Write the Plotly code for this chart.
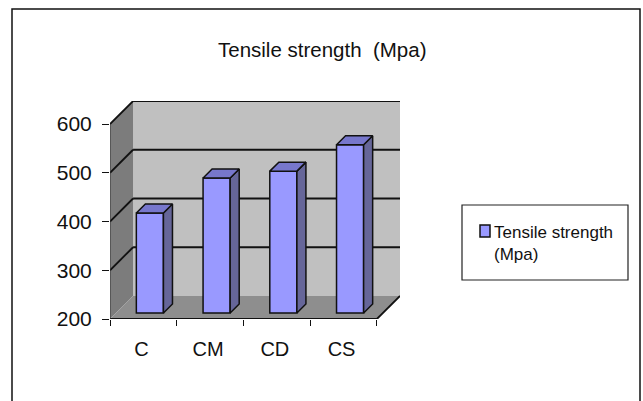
import plotly.graph_objects as go

categories = ["C", "CM", "CD", "CS"]
values = [405, 477, 491, 545]
y_ticks = [200, 300, 400, 500, 600]
series_name = "Tensile strength  (Mpa)"

W, H = 643, 401
L, R, T, B = 110, 400, 101, 319   # plot area in window pixels
DX = 23 / 66.5       # wall depth, x units
DY = 23 / 0.4875     # wall depth, y units
BAR_W = 27 / 66.5
BAR_OFF_X = 6.5 / 66.5
BAR_OFF_Y = 6 / 0.4875
BAR_DX = 9 / 66.5
BAR_DY = 9 / 0.4875
X0, X1 = -0.5, 3.5
Y0, Y1 = y_ticks[0], y_ticks[-1]
FONT = "Liberation Sans"
GRID = dict(color="#111111", width=1.8)

def px(x): return (x - L) / (R - L)
def py(y): return (B - y) / (B - T)

def poly(xs, ys):
    return "M " + " L ".join(f"{a},{b}" for a, b in zip(xs, ys)) + " Z"

shapes = [
    dict(type="path", layer="below", xref="x", yref="y", fillcolor="#c0c0c0", line=dict(width=0),
         path=poly([X0 + DX, X1 + DX, X1 + DX, X0 + DX], [Y0 + DY, Y0 + DY, Y1 + DY, Y1 + DY])),
    dict(type="path", layer="below", xref="x", yref="y", fillcolor="#7c7c7c", line=dict(width=0),
         path=poly([X0, X0 + DX, X0 + DX, X0], [Y0, Y0 + DY, Y1 + DY, Y1])),
    dict(type="path", layer="below", xref="x", yref="y", fillcolor="#8e8e8e", line=dict(width=0),
         path=poly([X0, X1, X1 + DX, X0 + DX], [Y0, Y0, Y0 + DY, Y0 + DY])),
]
for v in y_ticks[1:]:
    shapes.append(dict(type="line", layer="below", xref="x", yref="y", x0=X0, y0=v, x1=X0 + DX, y1=v + DY, line=GRID))
    shapes.append(dict(type="line", layer="below", xref="x", yref="y", x0=X0 + DX, y0=v + DY, x1=X1 + DX, y1=v + DY, line=GRID))
shapes += [
    dict(type="line", layer="below", xref="x", yref="y", x0=X0, y0=Y0, x1=X1, y1=Y0, line=GRID),
    dict(type="line", layer="below", xref="x", yref="y", x0=X1, y0=Y0, x1=X1 + DX, y1=Y0 + DY, line=GRID),
    dict(type="line", layer="below", xref="x", yref="y", x0=X0, y0=Y0, x1=X0, y1=Y1, line=dict(color="#333333", width=1)),
    # outer frame, open at the bottom
    dict(type="path", xref="paper", yref="paper", line=dict(color="#111111", width=1.5),
         path=f"M {px(12)},{py(401)} L {px(12)},{py(9)} L {px(640)},{py(9)} L {px(640)},{py(401)}"),
    # legend box and swatch
    dict(type="rect", xref="paper", yref="paper", x0=px(462), x1=px(628), y0=py(205), y1=py(280),
         line=dict(color="#222222", width=1.2), fillcolor="white"),
    dict(type="rect", xref="paper", yref="paper", x0=px(480), x1=px(490), y0=py(225), y1=py(237),
         line=dict(color="#111111", width=1.5), fillcolor="#9999ff"),
]

fig = go.Figure()
centers = list(range(len(categories)))
fig.add_bar(x=[c + BAR_OFF_X for c in centers], y=[v - Y0 for v in values], base=Y0 + BAR_OFF_Y,
            width=BAR_W, marker=dict(color="#9999ff", line=dict(color="#111111", width=1.5)),
            name=series_name, showlegend=False)
for c, v in zip(centers, values):
    l = c + BAR_OFF_X - BAR_W / 2
    r = c + BAR_OFF_X + BAR_W / 2
    b = Y0 + BAR_OFF_Y
    t = v + BAR_OFF_Y
    fig.add_scatter(x=[r, r + BAR_DX, r + BAR_DX, r, r], y=[b, b + BAR_DY, t + BAR_DY, t, b],
                    mode="lines", fill="toself", fillcolor="#666699",
                    line=dict(color="#111111", width=1.5), showlegend=False, hoverinfo="skip")
    fig.add_scatter(x=[l, r, r + BAR_DX, l + BAR_DX, l], y=[t, t, t + BAR_DY, t + BAR_DY, t],
                    mode="lines", fill="toself", fillcolor="#7777cc",
                    line=dict(color="#111111", width=1.5), showlegend=False, hoverinfo="skip")

fig.update_layout(
    width=W, height=H, autosize=False, showlegend=False,
    paper_bgcolor="white", plot_bgcolor="rgba(0,0,0,0)",
    margin=dict(l=L, r=W - R, t=T, b=H - B, autoexpand=False),
    font=dict(family=FONT, color="#111111"),
    shapes=shapes,
    annotations=[
        dict(xref="paper", yref="paper", x=px(322), y=py(50), text=series_name, showarrow=False,
             font=dict(size=20.5, family=FONT), xanchor="center", yanchor="middle"),
        dict(xref="paper", yref="paper", x=px(492), y=py(243), text="Tensile strength<br>(Mpa)", showarrow=False,
             font=dict(size=17, family=FONT), xanchor="left", yanchor="middle", align="left"),
    ],
    xaxis=dict(range=[X0, X1 + DX], tickmode="array", tickvals=[c - 0.03 for c in centers], ticktext=categories,
               ticks="", showgrid=False, zeroline=False, showline=False, fixedrange=True,
               tickfont=dict(size=20, family=FONT), ticklabelstandoff=16,
               minor=dict(tickmode="array", tickvals=[X0 + i for i in range(len(categories) + 1)],
                          ticks="outside", ticklen=6, tickcolor="#111111", tickwidth=1.2, showgrid=False)),
    yaxis=dict(range=[Y0, Y1 + DY], tickmode="array", tickvals=y_ticks, ticks="outside", ticklen=7,
               tickcolor="#111111", tickwidth=1.2, showgrid=False, zeroline=False, showline=False,
               fixedrange=True, tickfont=dict(size=21, family=FONT), ticklabelstandoff=6),
)
fig.write_html("out.html", config=dict(displayModeBar=False),
               post_script="document.body.style.margin='0';document.documentElement.style.overflow='hidden';")
